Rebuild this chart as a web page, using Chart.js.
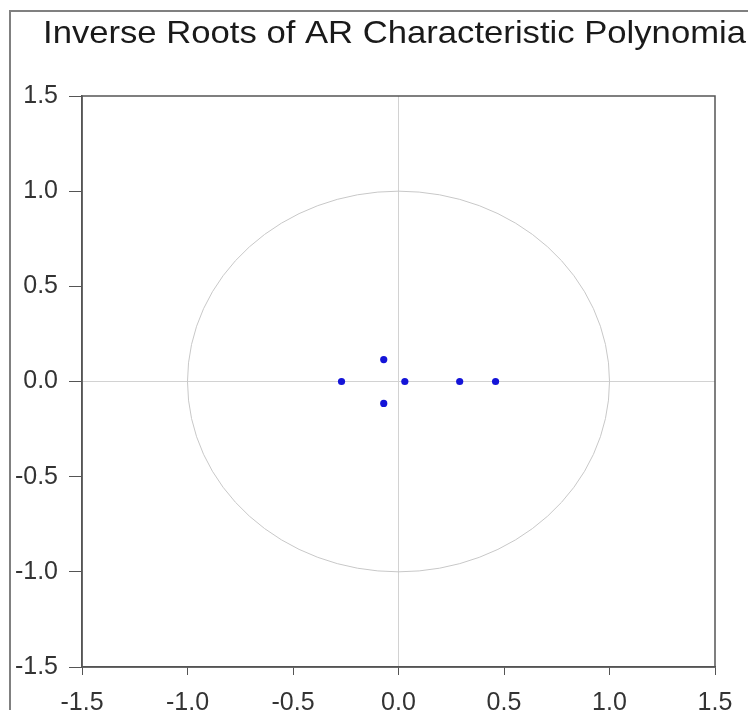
<!DOCTYPE html>
<html>
<head>
<meta charset="utf-8">
<script src="https://cdn.jsdelivr.net/npm/chart.js@4.4.1/dist/chart.umd.min.js"></script>
<style>
  body { margin: 0; background: #fff; }
  canvas { display: block; }
</style>
</head>
<body>
<canvas id="rootsChart" width="748" height="710"></canvas>
<script>
const rootsRe = [-0.27, -0.07, -0.07, 0.03, 0.29, 0.46];
const rootsIm = [0.0, 0.115, -0.115, 0.0, 0.0, 0.0];
const axisMin = -1.5;
const axisMax = 1.5;
const axisStep = 0.5;
const chartTitle = 'Inverse Roots of AR Characteristic Polynomia';

const points = rootsRe.map(function (re, i) { return { x: re, y: rootsIm[i] }; });

// unit circle, title, frame and box round the plot area
const unitCircle = {
  id: 'unitCircle',
  beforeDatasetsDraw(chart) {
    const ctx = chart.ctx, xs = chart.scales.x, ys = chart.scales.y;
    const cx = xs.getPixelForValue(0), cy = ys.getPixelForValue(0);
    const rx = xs.getPixelForValue(1) - cx;
    const ry = cy - ys.getPixelForValue(1);
    ctx.save();
    ctx.strokeStyle = '#c8c8c8';
    ctx.lineWidth = 1;
    ctx.beginPath();
    ctx.ellipse(cx, cy, rx, ry, 0, 0, Math.PI * 2);
    ctx.stroke();
    ctx.restore();
  },
  afterDraw(chart) {
    const ctx = chart.ctx, a = chart.chartArea;
    ctx.save();
    ctx.strokeStyle = '#555';
    ctx.lineWidth = 1.5;
    ctx.strokeRect(a.left, a.top, a.right - a.left, a.bottom - a.top);
    // outer frame of the graph window
    ctx.strokeStyle = '#808080';
    ctx.lineWidth = 2;
    ctx.beginPath();
    ctx.moveTo(10, chart.height);
    ctx.lineTo(10, 11);
    ctx.lineTo(chart.width, 11);
    ctx.stroke();
    // title, a bit stretched like the original
    ctx.fillStyle = '#1a1a1a';
    ctx.font = "32px 'Liberation Sans', Arial, sans-serif";
    ctx.textBaseline = 'alphabetic';
    ctx.textAlign = 'left';
    const w = ctx.measureText(chartTitle).width;
    ctx.translate(43, 43);
    ctx.scale(703 / w, 1);
    ctx.fillText(chartTitle, 0, 0);
    ctx.restore();
  }
};

function zeroOnly(c) {
  return c.tick && c.tick.value === 0 ? '#d2d2d2' : 'rgba(0,0,0,0)';
}

const tickFont = { family: "'Liberation Sans', Arial, sans-serif", size: 25 };

new Chart(document.getElementById('rootsChart'), {
  type: 'scatter',
  data: {
    datasets: [{
      data: points,
      backgroundColor: '#1414d8',
      borderWidth: 0,
      pointRadius: 3.6
    }]
  },
  options: {
    responsive: false,
    devicePixelRatio: 1,
    animation: false,
    layout: { padding: { left: 0, right: 33, top: 96, bottom: 0 } },
    plugins: {
      legend: { display: false },
      tooltip: { enabled: false },
      title: { display: false }
    },
    scales: {
      x: {
        type: 'linear',
        min: axisMin,
        max: axisMax,
        afterFit(s) { s.height = 43; },
        ticks: {
          stepSize: axisStep,
          color: '#333',
          font: tickFont,
          padding: 13,
          maxRotation: 0,
          callback: function (v) { return v.toFixed(1); }
        },
        grid: { color: zeroOnly, tickColor: '#555', tickLength: 8, lineWidth: 1 },
        border: { color: '#555', width: 1.5 }
      },
      y: {
        type: 'linear',
        min: axisMin,
        max: axisMax,
        afterFit(s) { s.width = 82; },
        ticks: {
          stepSize: axisStep,
          color: '#333',
          font: tickFont,
          padding: 11,
          callback: function (v) { return v.toFixed(1); }
        },
        grid: { color: zeroOnly, tickColor: '#555', tickLength: 13, lineWidth: 1 },
        border: { color: '#555', width: 1.5 }
      }
    }
  },
  plugins: [unitCircle]
});
</script>
</body>
</html>
